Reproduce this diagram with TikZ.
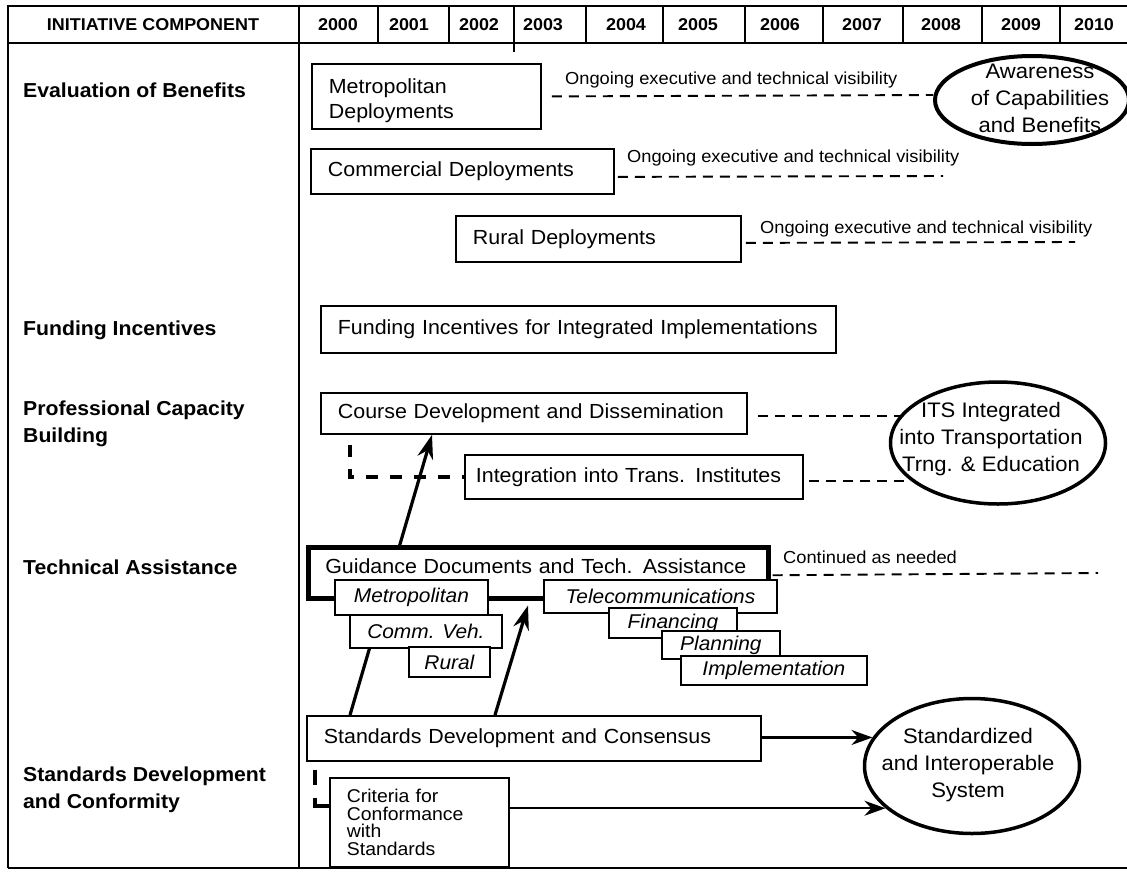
\documentclass[tikz,border=0pt]{standalone}
\usepackage{fontspec}
\setmainfont{Liberation Sans}[FakeStretch=1.05]
\usetikzlibrary{arrows.meta,calc,backgrounds,shapes.geometric}

\begin{document}
\begin{tikzpicture}[x=1pt,y=-1pt,
  frameline/.style={line width=2.8pt},
  yearline/.style={line width=1.4pt},
  hdr/.style={inner sep=0pt,font=\fontsize{17.1}{19}\selectfont\bfseries},
  rowlabel/.style={anchor=west,align=left,inner sep=0pt,font=\fontsize{20.2}{27}\selectfont\bfseries},
  bar/.style={draw,line width=1.8pt,fill=white,anchor=north west,align=left,inner xsep=17pt,inner ysep=0pt,font=\fontsize{20.4}{25}\selectfont},
  sub/.style={draw,line width=1.8pt,fill=white,anchor=north west,inner sep=0pt,font=\fontsize{19.9}{22}\selectfont\itshape},
  note/.style={anchor=west,inner sep=0pt,font=\fontsize{17.4}{19}\selectfont},
  goal/.style={draw,ellipse,line width=3.5pt,inner sep=0pt},
  goaltext/.style={align=center,inner sep=0pt,font=\fontsize{21}{27}\selectfont},
  visib/.style={line width=1.9pt,dash pattern=on 10pt off 7pt},
  link/.style={line width=3.2pt,dash pattern=on 12pt off 12pt},
  flow/.style={line width=2.2pt,-{Stealth[length=21pt,width=15pt]}},
  lift/.style={line width=3.2pt,-{Stealth[length=24pt,width=16pt]}},
]
\useasboundingbox (0,0) rectangle (1127,871);

% table frame and year grid
\draw[frameline] (8,868) -- (8,6) -- (1127,6);
\draw[frameline] (8,43) -- (1127,43);
\draw[frameline] (8,868) -- (1127,868);
\draw[line width=2pt] (299,6) -- (299,868);
\foreach \xd in {378,449,586,663,745,823,903,982,1060}
  \draw[yearline] (\xd,6) -- (\xd,43);
\draw[yearline] (514,6) -- (514,52);

% header
\node[hdr] (hc) at (153,25) {INITIATIVE COMPONENT};
\foreach \yr/\xc in {2000/338,2001/409,2002/479,2003/543,2004/626,2005/698,2006/780,2007/862,2008/941,2009/1021,2010/1094}
  \node[hdr] (y\yr) at (\xc,25) {\yr};

% row labels
\node[rowlabel] (l1) at (23,90) {Evaluation of Benefits};
\node[rowlabel] (l2) at (23,330) {Funding Incentives};
\node[rowlabel] (l3) at (23,424) {Professional Capacity\\Building};
\node[rowlabel] (l4) at (23,567) {Technical Assistance};
\node[rowlabel] (l5) at (23,790) {Standards Development\\and Conformity};

% evaluation of benefits
\node[bar,minimum width=229,minimum height=65,text width=195] (metro) at (311,63) {\rule{0pt}{23pt}Metropolitan\\Deployments};
\node[bar,minimum width=303,minimum height=45,text width=269] (comm) at (310,148) {Commercial Deployments};
\node[bar,minimum width=285,minimum height=46,text width=251] (rural) at (455,215) {Rural Deployments};
\node[note] (v1) at (565,80) {Ongoing executive and technical visibility};
\node[note] (v2) at (627,158) {Ongoing executive and technical visibility};
\node[note] (v3) at (760,229) {Ongoing executive and technical visibility};
\node[goal,line width=4pt,minimum width=194,minimum height=88] (aware) at (1032,100) {};
\node[goaltext] (awaretxt) at (1040,98) {Awareness\\of Capabilities\\and Benefits};

% funding
\node[bar,minimum width=515,minimum height=47,text width=481] (fund) at (320,305) {Funding Incentives for Integrated Implementations};

% professional capacity building
\node[bar,minimum width=426,minimum height=41,text width=392] (course) at (320,392) {Course Development and Dissemination};
\node[bar,minimum width=338,minimum height=44,inner xsep=11pt,text width=316] (integ) at (464,454) {Integration into Trans. Institutes};
\node[goal,minimum width=215,minimum height=122] (its) at (998,443) {};
\node[goaltext] (itstxt) at (991,439) {ITS Integrated\\into Transportation\\Trng. \& Education};

% technical assistance
\node[bar,line width=4.5pt,minimum width=460,minimum height=51,text width=426] (guid) at (306,545) {Guidance Documents and Tech. Assistance\rule[-13pt]{0pt}{13pt}};
\node[note] (cont) at (783,557) {Continued as needed};
\node[sub,minimum width=153,minimum height=35] (msub) at (334,579) {Metropolitan};
\node[sub,minimum width=152,minimum height=33] (csub) at (349,614) {Comm. Veh.};
\node[sub,minimum width=81,minimum height=30] (rsub) at (408,646) {Rural};
\node[sub,minimum width=233,minimum height=33] (tsub) at (543,579) {Telecommunications};
\node[sub,minimum width=128,minimum height=30] (fsub) at (608,607) {Financing};
\node[sub,minimum width=118,minimum height=28] (psub) at (661,630) {Planning};
\node[sub,minimum width=186,minimum height=29] (isub) at (680,655) {Implementation};

% standards
\node[bar,minimum width=454,minimum height=45,text width=420] (std) at (306,715) {Standards Development and Consensus};
\node[bar,minimum width=179,minimum height=89,text width=145,font=\fontsize{18.5}{17.5}\selectfont] (crit) at (329,777) {\lineskiplimit=-50pt\relax Criteria for\\Conformance\\with\\Standards};
\node[goal,minimum width=215,minimum height=135] (stde) at (972,766) {};
\node[goaltext] (stdetxt) at (968,765) {Standardized\\and Interoperable\\System};

% ongoing visibility lines
\coordinate (v1end) at (933,95);
\coordinate (v2end) at (943,176);
\coordinate (v3end) at (1075,242);
\coordinate (gend) at (1098,573);
\draw[visib] ($(metro.east)+(10,0)$) -- (v1end);
\draw[visib] ($(comm.east)+(3,5.5)$) -- (v2end);
\draw[visib] ($(rural.east)+(4,4)$) -- (v3end);
\draw[visib] ($(course.east)+(10,2.5)$) coordinate (ca) -- (ca -| its.164);
\draw[visib] ($(integ.east)+(5,4)$) coordinate (ia) -- (ia -| its.203);
\draw[visib] ($(guid.east)+(2,2.5)$) -- (gend);

% dashed links
\draw[link] ($(course.south west)+(30,10)$) |- (integ.west);
\draw[link,dash pattern=on 15pt off 13pt on 40pt off 0pt] ($(std.south west)+(9,8)$) |- ($(crit.north west)+(0,29)$);

% flows into the goal
\draw[flow] (std.east |- stde.164) -- (stde.164);
\draw[flow] (crit.east |- stde.206) -- (stde.206);

% upward arrows run behind the boxes
\begin{pgfonlayer}{background}
\fill[white] (0,0) rectangle (1127,871);
\draw[lift] ($(std.north west)+(44,0)$) -- ($(course.south west)+(112,0)$);
\draw[lift] ($(std.north west)+(189,0)$) -- ($(guid.south west)+(222,5)$);
\end{pgfonlayer}
\end{tikzpicture}
\end{document}
